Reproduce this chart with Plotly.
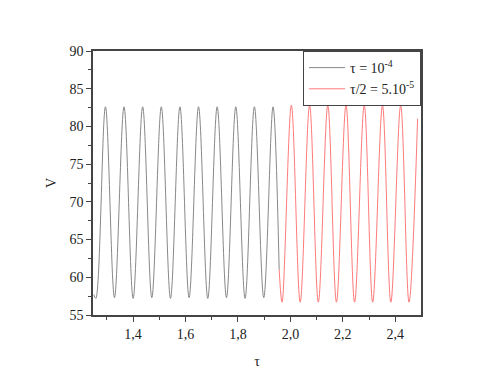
import plotly.graph_objects as go

# extrema of the two runs (tau, V)
gray_tau = [1.250, 1.2578, 1.2944, 1.3289, 1.3654, 1.4000, 1.4364, 1.4713, 1.5075,
            1.5426, 1.5785, 1.6135, 1.6495, 1.6848, 1.7206, 1.7561, 1.7916, 1.8270,
            1.8626, 1.8983, 1.9336, 1.957]
gray_v = [57.7, 57.2, 82.6, 57.3, 82.6, 57.2, 82.6, 57.3, 82.6,
          57.2, 82.6, 57.3, 82.6, 57.2, 82.6, 57.3, 82.6, 57.2,
          82.6, 57.3, 82.6, 61.0]

red_tau = [1.957, 1.9681, 2.0035, 2.0372, 2.0730, 2.1064, 2.1425, 2.1755, 2.2120,
           2.2447, 2.2815, 2.3138, 2.3510, 2.3830, 2.4205, 2.4522, 2.485]
red_v = [61.0, 56.7, 82.8, 56.7, 82.8, 56.7, 82.8, 56.7, 82.8,
         56.7, 82.8, 56.7, 82.8, 56.7, 82.8, 56.7, 81.0]

x_ticks = [1.4, 1.6, 1.8, 2.0, 2.2, 2.4]
y_ticks = [55, 60, 65, 70, 75, 80, 85, 90]

FONT = "Liberation Serif, Times New Roman, Times, serif"

fig = go.Figure()
fig.add_trace(go.Scatter(x=gray_tau, y=gray_v, mode="lines",
                         line=dict(color="#7a7a7a", width=0.9, shape="spline"),
                         name="τ = 10<sup>-4</sup>"))
fig.add_trace(go.Scatter(x=red_tau, y=red_v, mode="lines",
                         line=dict(color="#ff6b6b", width=0.9, shape="spline"),
                         name="τ/2 = 5.10<sup>-5</sup>"))

axis_common = dict(showline=True, linecolor="#444", linewidth=1.5, mirror=True,
                   ticks="outside", ticklen=5, tickwidth=1.2, tickcolor="#444",
                   showgrid=False, zeroline=False,
                   tickfont=dict(family=FONT, size=14, color="#222"))

fig.update_xaxes(range=[1.247, 2.498], tickvals=x_ticks, tickformat=".1f",
                 minor=dict(dtick=0.1, tick0=1.3, ticks="outside", ticklen=3,
                            tickcolor="#444", showgrid=False),
                 title=dict(text="τ", font=dict(family=FONT, size=14, color="#222"),
                            standoff=16),
                 **axis_common)
fig.update_yaxes(range=[55, 90], tickvals=y_ticks,
                 minor=dict(dtick=2.5, tick0=55, ticks="outside", ticklen=3,
                            tickcolor="#444", showgrid=False),
                 title=dict(text="V", font=dict(family=FONT, size=14, color="#222"),
                            standoff=10),
                 **axis_common)

fig.update_layout(
    width=480, height=371,
    margin=dict(l=85, r=67, t=43, b=62),
    paper_bgcolor="white", plot_bgcolor="white",
    separators=", ",
    font=dict(family=FONT, size=14, color="#222"),
    legend=dict(x=1, y=1, xanchor="right", yanchor="top",
                bgcolor="white", bordercolor="#444", borderwidth=1,
                font=dict(family=FONT, size=14, color="#222"),
                tracegroupgap=0, itemwidth=36),
)

fig.write_html("out.html")
